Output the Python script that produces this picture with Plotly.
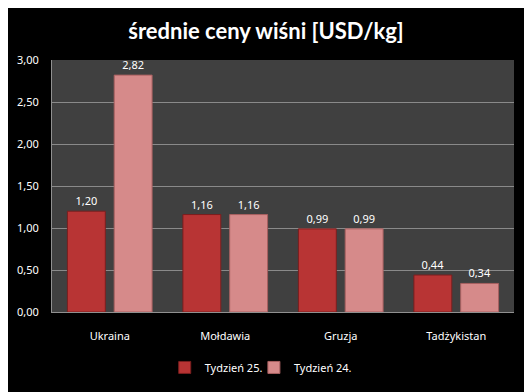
import plotly.graph_objects as go

categories = ["Ukraina", "Mołdawia", "Gruzja", "Tadżykistan"]
week25 = [1.20, 1.16, 0.99, 0.44]
week24 = [2.82, 1.16, 0.99, 0.34]
series_names = ["Tydzień 25.", "Tydzień 24."]
y_ticks = [0, 0.5, 1.0, 1.5, 2.0, 2.5, 3.0]

font_family = "Noto Sans, DejaVu Sans, sans-serif"

fig = go.Figure()
fig.add_trace(go.Bar(
    x=categories, y=week25, name=series_names[0], legend="legend",
    marker=dict(color="#b83434", line=dict(color="#7a1e1e", width=1)),
    texttemplate="%{y:.2f}", textposition="outside",
    textfont=dict(color="white", size=11, family=font_family),
    cliponaxis=False,
))
fig.add_trace(go.Bar(
    x=categories, y=week24, name=series_names[1], legend="legend2",
    marker=dict(color="#d68a8a", line=dict(color="#a86060", width=1)),
    texttemplate="%{y:.2f}", textposition="outside",
    textfont=dict(color="white", size=11, family=font_family),
    cliponaxis=False,
))

H = 392
leg_common = dict(orientation="h", xanchor="left", y=-0.22, yanchor="middle",
                  font=dict(color="white", size=11, family=font_family),
                  bgcolor="rgba(0,0,0,0)", itemwidth=30)
fig.update_layout(
    width=532, height=H,
    margin=dict(l=44, r=26, t=52, b=88, autoexpand=False),
    paper_bgcolor="black", plot_bgcolor="#404040",
    separators=", ",
    barmode="group", bargap=0.19, bargroupgap=0.19,
    title=dict(text="<b>średnie ceny wiśni [USD/kg]</b>", x=(266 - 8) / 532, xanchor="center",
               y=1 - 23 / H, yanchor="middle",
               font=dict(color="white", size=22, family="Lato, Open Sans, sans-serif")),
    font=dict(color="white", size=11, family=font_family),
    legend=dict(x=0.244, **leg_common),
    legend2=dict(x=0.437, **leg_common),
    showlegend=True,
)
fig.update_xaxes(showline=True, linecolor="#909090", linewidth=1, mirror=False,
                 ticks="outside", ticklen=14, tickcolor="black", automargin=False,
                 tickfont=dict(color="white", size=11), showgrid=False)
fig.update_yaxes(range=[0, 3], tickvals=y_ticks, tickformat=".2f",
                 showgrid=True, gridcolor="#8a8a8a", gridwidth=1,
                 showline=True, linecolor="#909090", linewidth=1,
                 ticks="outside", ticklen=10, tickcolor="black", automargin=False,
                 tickfont=dict(color="white", size=11), zeroline=False)

fig.write_html("out.html")
